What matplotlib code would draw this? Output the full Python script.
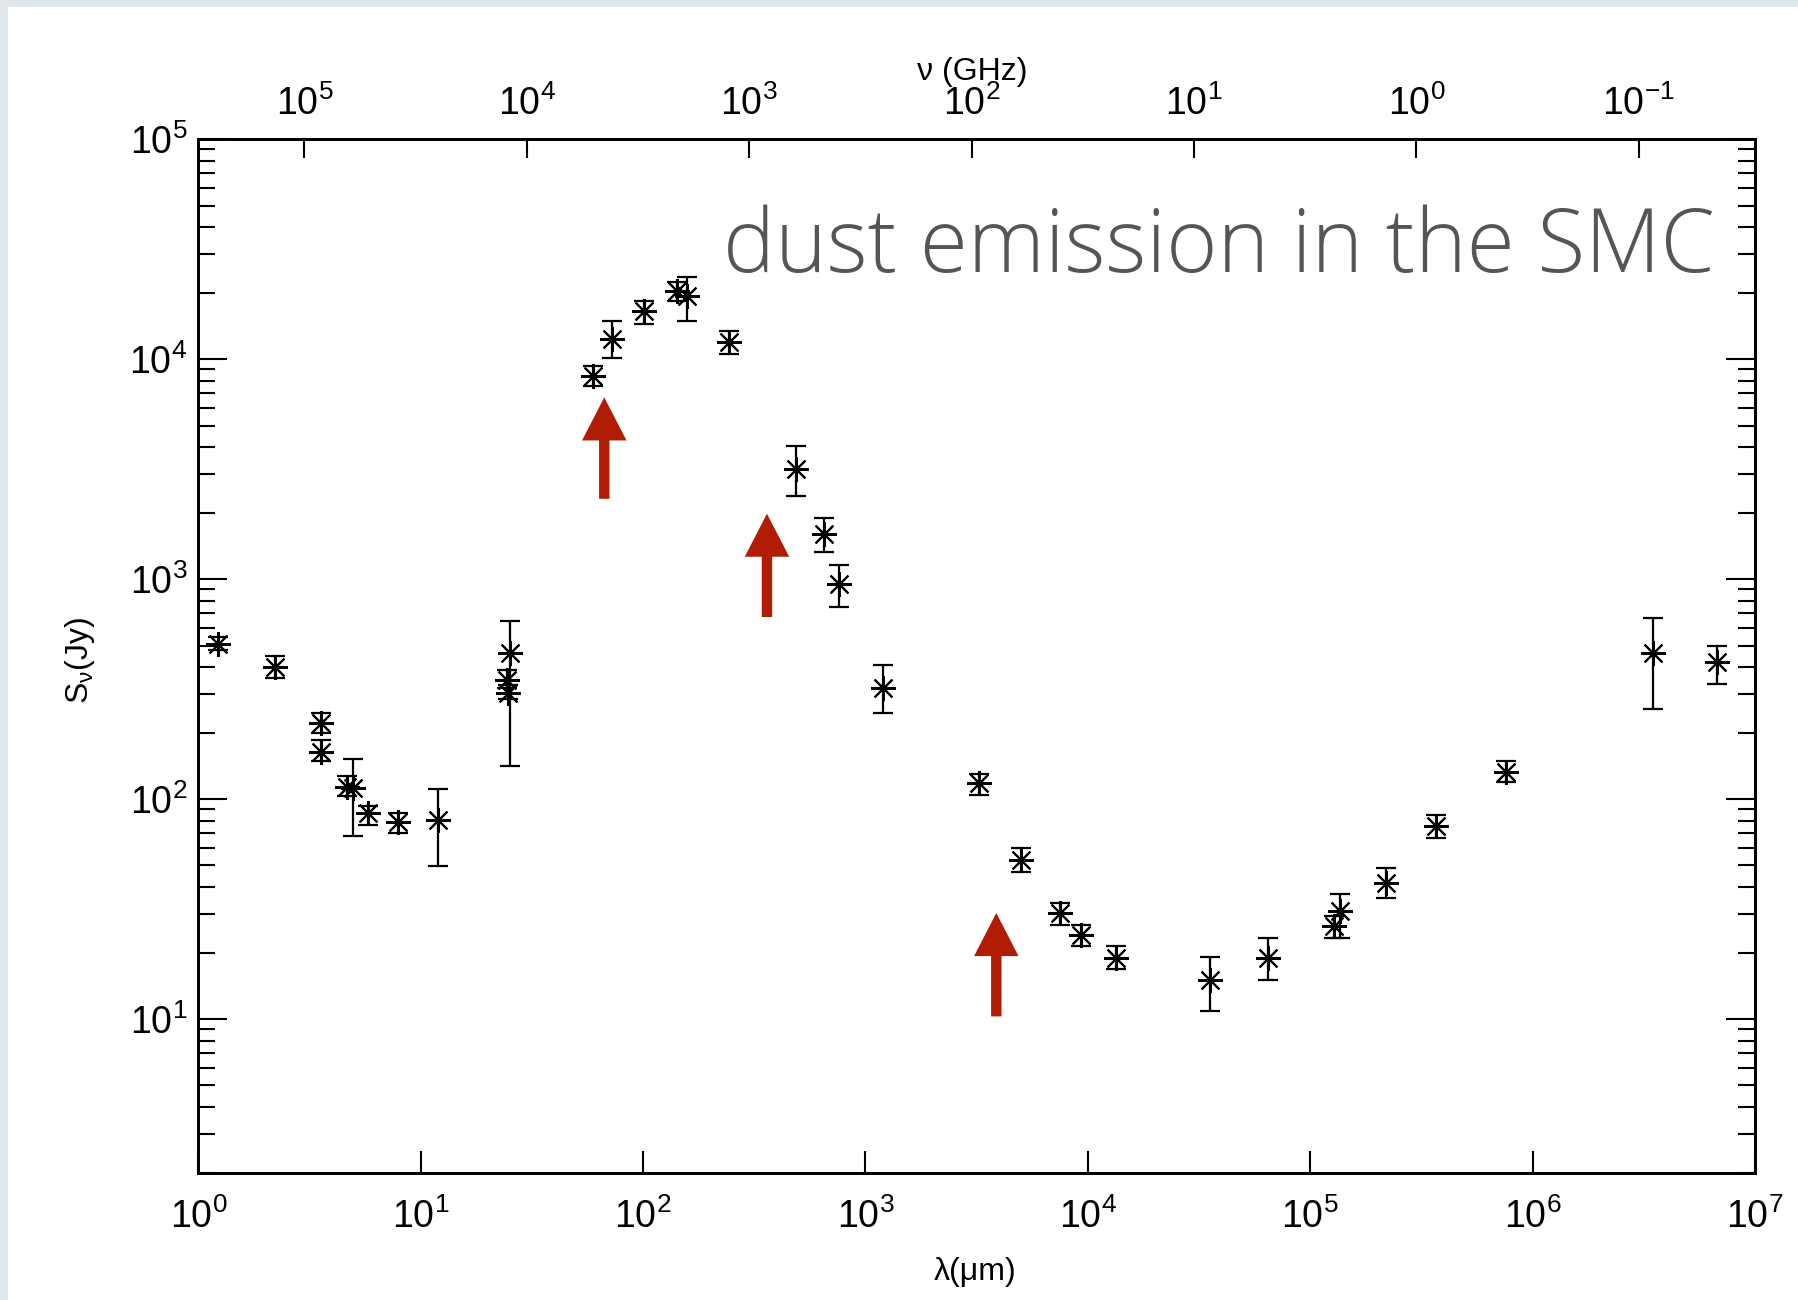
import matplotlib
matplotlib.use('Agg')
import numpy as np
import matplotlib.pyplot as plt
from matplotlib.ticker import FixedLocator, LogLocator, LogFormatterSciNotation, NullLocator, NullFormatter
from matplotlib.patches import Rectangle

plt.rcParams['font.family'] = ['Liberation Sans', 'DejaVu Sans']
plt.rcParams['mathtext.fontset'] = 'custom'
plt.rcParams['mathtext.rm'] = 'Liberation Sans'
plt.rcParams['mathtext.it'] = 'Liberation Sans:italic'
plt.rcParams['mathtext.default'] = 'regular'

# SED of the SMC: wavelength (micron), flux density (Jy), lower/upper error bounds
wavelength = [1.23, 2.21, 3.55, 3.55, 4.65, 4.98, 5.82, 7.94, 12.0, 25.2, 24.4, 24.6,
              59.8, 72.4, 101, 142, 157, 244, 489, 653, 760, 1202,
              3236, 5000, 7500, 9330, 13340, 35560, 64400, 127700, 135600, 218000, 366000, 760000,
              3.48e6, 6.76e6]
flux = [510, 400, 223, 164, 114, 112, 86.3, 79, 80.5, 460, 350, 305,
        8440, 12400, 16500, 20500, 19450, 11940, 3180, 1610, 956, 320,
        118, 53.0, 30.4, 24.2, 19.0, 15.1, 19.0, 26.4, 30.9, 41.6, 75.2, 133,
        463, 422]
flux_lo = [476, 355, 200, 150, 103, 68, 76.6, 70.2, 49.8, 141, 320, 285,
           7600, 10090, 14500, 18500, 14860, 10600, 2380, 1330, 749, 246,
           104.6, 46.6, 26.9, 21.5, 16.9, 10.9, 15.1, 23.4, 23.4, 35.6, 66.6, 120,
           257, 334]
flux_hi = [547, 447, 248, 186, 127, 153, 93.5, 86.6, 111, 647, 385, 330,
           9300, 14860, 18460, 22500, 23560, 13500, 4020, 1905, 1166, 407,
           130, 60.0, 33.8, 26.9, 21.5, 19.2, 23.4, 29.4, 37.2, 48.6, 85, 148.5,
           664, 497]

# arrows marking the bands: x position, tail flux, head flux
arrow_x = [66.9, 360.6, 3875]
arrow_tail = [2323, 674, 10.3]
arrow_head = [6714, 1987, 30.4]

lam_ticks = [1e0, 1e1, 1e2, 1e3, 1e4, 1e5, 1e6, 1e7]
nu_ticks = [1e5, 1e4, 1e3, 1e2, 1e1, 1e0, 1e-1]

fig = plt.figure(figsize=(17.98, 13.0), dpi=100, facecolor='#e2e6ed')
fig.patches.append(Rectangle((8 / 1798, 0), 1, 1 - 7 / 1300, transform=fig.transFigure,
                             facecolor='white', edgecolor='none', zorder=-10))

ax = fig.add_axes([0.1103, 0.0977, 0.8658, 0.7951])
ax.set_facecolor('white')

flux = np.array(flux)
yerr = [flux - np.array(flux_lo), np.array(flux_hi) - flux]
ax.errorbar(wavelength, flux, yerr=yerr, fmt='none', ecolor='black',
            elinewidth=1.6, capsize=7.5, capthick=1.6)
ax.plot(wavelength, flux, linestyle='none', marker=(8, 2, 0), markersize=18,
        markeredgewidth=1.5, color='black')

ax.set_xscale('log')
ax.set_yscale('log')
ax.set_xlim(1, 1e7)
ax.set_ylim(2, 1e5)

ax.xaxis.set_major_locator(FixedLocator(lam_ticks))
ax.xaxis.set_major_formatter(LogFormatterSciNotation())
ax.xaxis.set_minor_locator(NullLocator())
ax.yaxis.set_major_locator(LogLocator(base=10))
ax.yaxis.set_major_formatter(LogFormatterSciNotation())
ax.yaxis.set_minor_locator(LogLocator(base=10, subs=np.arange(2, 10)))
ax.yaxis.set_minor_formatter(NullFormatter())

ax.tick_params(axis='y', which='major', direction='in', length=21, width=1.5,
               left=True, right=True, labelsize=27, pad=8)
ax.tick_params(axis='y', which='minor', direction='in', length=12, width=1.5,
               left=True, right=True)
ax.tick_params(axis='x', which='major', direction='in', length=16, width=1.5,
               top=False, bottom=True, labelsize=27, pad=18)
for s in ax.spines.values():
    s.set_linewidth(2)

# frequency axis along the top, nu = c / lambda
ax2 = ax.twiny()
ax2.set_xscale('log')
ax2.set_xlim(3e5 / 1, 3e5 / 1e7)
ax2.xaxis.set_major_locator(FixedLocator(nu_ticks))
ax2.xaxis.set_major_formatter(LogFormatterSciNotation())
ax2.xaxis.set_minor_locator(NullLocator())
ax2.tick_params(axis='x', which='major', direction='in', length=14, width=1.5,
                labelsize=27, pad=12)
for s in ax2.spines.values():
    s.set_linewidth(2)

for x, y0, y1 in zip(arrow_x, arrow_tail, arrow_head):
    ax.annotate('', xy=(x, y1), xytext=(x, y0),
                arrowprops=dict(arrowstyle='simple,head_length=31,head_width=32,tail_width=7.5',
                                mutation_scale=1, color='#b01c04', shrinkA=0, shrinkB=0, lw=0))

fig.text(975 / 1798, 1 - 1272 / 1300, 'λ(μm)', ha='center', va='center', fontsize=23)
fig.text(972 / 1798, 1 - 72 / 1300, 'ν (GHz)', ha='center', va='center', fontsize=23)
fig.text(80 / 1798, 1 - 660 / 1300, r'S$_\nu$(Jy)', ha='center', va='center',
         rotation=90, fontsize=23)

fig.text(1715 / 1798, 1 - 271.7 / 1300, 'dust emission in the SMC', ha='right',
         va='baseline', fontsize=63, color='#555555', family='Open Sans', fontweight='light')

fig.savefig('out.png', dpi=100, facecolor=fig.get_facecolor())
